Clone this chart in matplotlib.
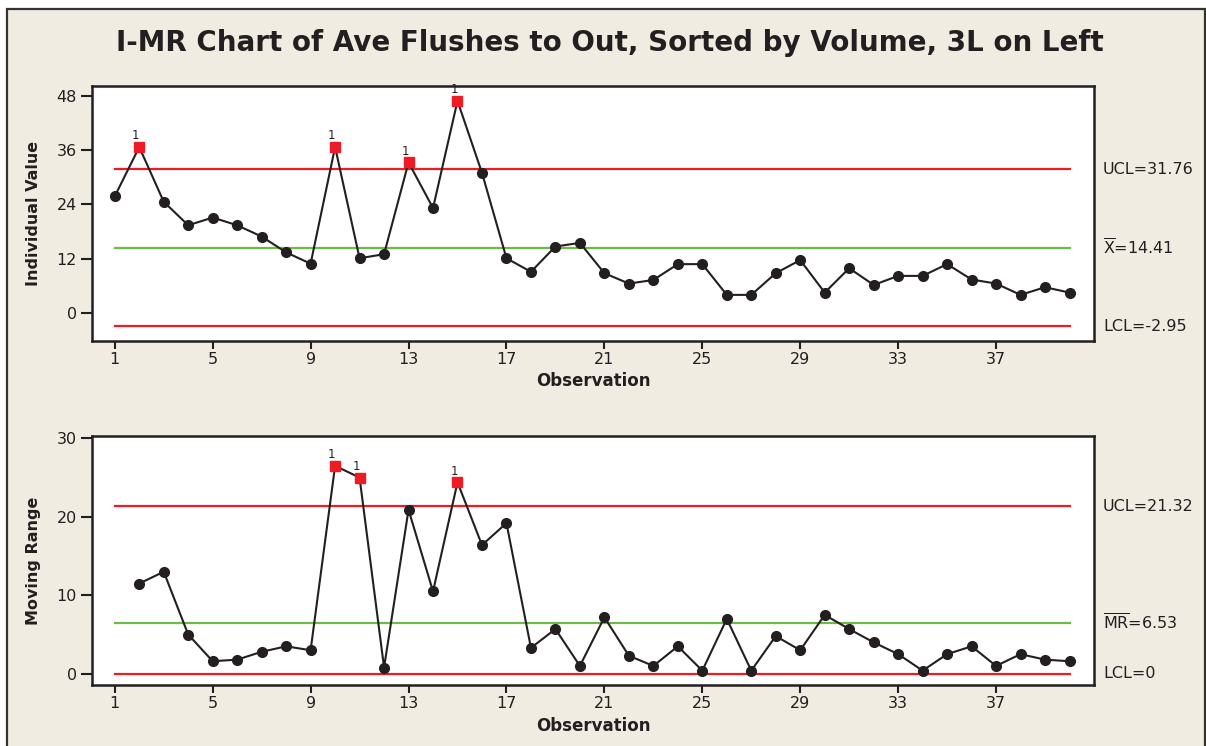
import numpy as np
from matplotlib import pyplot as plt
from matplotlib import transforms
from matplotlib.patches import Rectangle

# valores (I-MR)
obs = np.arange(1, 41)
ind_values = [25.8, 36.7, 24.6, 19.4, 21.1, 19.4, 16.9, 13.4, 10.9, 36.7,
              12.1, 13.0, 33.3, 23.2, 46.9, 31.0, 12.1, 9.1, 14.7, 15.5,
              8.8, 6.5, 7.3, 10.8, 10.8, 4.0, 4.0, 8.8, 11.7, 4.5,
              9.9, 6.2, 8.2, 8.2, 10.8, 7.4, 6.5, 4.0, 5.7, 4.5]
mr_obs = np.arange(2, 41)
mr_values = [11.5, 13.0, 5.0, 1.6, 1.8, 2.8, 3.5, 3.0, 26.5, 25.0,
             0.8, 20.9, 10.5, 24.4, 16.4, 19.2, 3.3, 5.7, 1.0, 7.2,
             2.3, 1.0, 3.5, 0.4, 7.0, 0.4, 4.8, 3.0, 7.5, 5.7,
             4.0, 2.5, 0.4, 2.5, 3.5, 1.0, 2.5, 1.8, 1.6]

i_limits = [31.76, 14.41, -2.95]
i_labels = ["UCL=31.76", r"$\overline{\mathrm{X}}$=14.41", "LCL=-2.95"]
mr_limits = [21.32, 6.53, 0]
mr_labels = ["UCL=21.32", r"$\overline{\mathrm{MR}}$=6.53", "LCL=0"]

x_ticks = [1, 5, 9, 13, 17, 21, 25, 29, 33, 37]
i_ticks = [0, 12, 24, 36, 48]
mr_ticks = [0, 10, 20, 30]

BG = "#f0ece2"
RED = "#ed1c24"
GREEN = "#6cbb45"
DARK = "#231f20"

fig = plt.figure(figsize=(12.06, 7.46), dpi=100, facecolor="white")
fundo = Rectangle((7 / 1206, -0.05), 1198 / 1206, 1.05 - 9 / 746,
                  transform=fig.transFigure, facecolor=BG,
                  edgecolor="#333333", linewidth=1.6, zorder=-10)
fig.patches.append(fundo)

fig.text(610 / 1206, 1 - 43 / 746,
         "I-MR Chart of Ave Flushes to Out, Sorted by Volume, 3L on Left",
         ha="center", va="center", fontsize=20, fontweight="bold", color=DARK)

ax1 = fig.add_axes([92 / 1206, 1 - 341 / 746, 1002 / 1206, 255 / 746])
ax2 = fig.add_axes([92 / 1206, 1 - 685 / 746, 1002 / 1206, 249 / 746])


def desenha(ax, x, y, limits, labels, ylabel, yticks, ylim):
    ax.set_facecolor("white")
    for v, c in zip(limits, [RED, GREEN, RED]):
        ax.plot([x_ticks[0], obs[-1]], [v, v], color=c, lw=1.6, zorder=1)
    ax.plot(x, y, color=DARK, lw=1.5, zorder=2)
    y = np.array(y)
    fora = y > limits[0]
    ax.plot(x[~fora], y[~fora], "o", color=DARK, ms=7, zorder=3)
    ax.plot(x[fora], y[fora], "s", color=RED, ms=7, mec=RED, zorder=4)
    for xi, yi in zip(x[fora], y[fora]):
        ax.annotate("1", (xi, yi), xytext=(-2.5, 8), textcoords="offset points",
                    ha="center", va="center", fontsize=8.5, color=DARK,
                    annotation_clip=False, zorder=5)
    trans = transforms.blended_transform_factory(ax.transAxes, ax.transData)
    for v, t in zip(limits, labels):
        ax.text(1.009, v, t, transform=trans, ha="left", va="center",
                fontsize=11.5, color=DARK)
    ax.set_xlim(0.07, 41.0)
    ax.set_ylim(*ylim)
    ax.set_xticks(x_ticks)
    ax.set_yticks(yticks)
    ax.tick_params(axis="both", direction="out", color=DARK, labelcolor=DARK,
                   labelsize=11.5, width=1.5)
    ax.tick_params(axis="x", length=6, pad=2)
    ax.tick_params(axis="y", length=8, pad=3)
    for s in ax.spines.values():
        s.set_color(DARK)
        s.set_linewidth(1.8)
    ax.set_ylabel(ylabel, fontsize=11.5, fontweight="bold", color=DARK)
    ax.yaxis.set_label_coords(-0.051, 0.5)
    ax.set_xlabel("Observation", fontsize=12, fontweight="bold", color=DARK)
    ax.xaxis.label.set_va("center")


desenha(ax1, obs, ind_values, i_limits, i_labels, "Individual Value", i_ticks, (-6.2, 50.2))
ax1.xaxis.set_label_coords(0.5, -0.157)
desenha(ax2, mr_obs, mr_values, mr_limits, mr_labels, "Moving Range", mr_ticks, (-1.43, 30.3))
ax2.xaxis.set_label_coords(0.5, -0.165)

fig.savefig("out.png", dpi=100, facecolor=fig.get_facecolor())
